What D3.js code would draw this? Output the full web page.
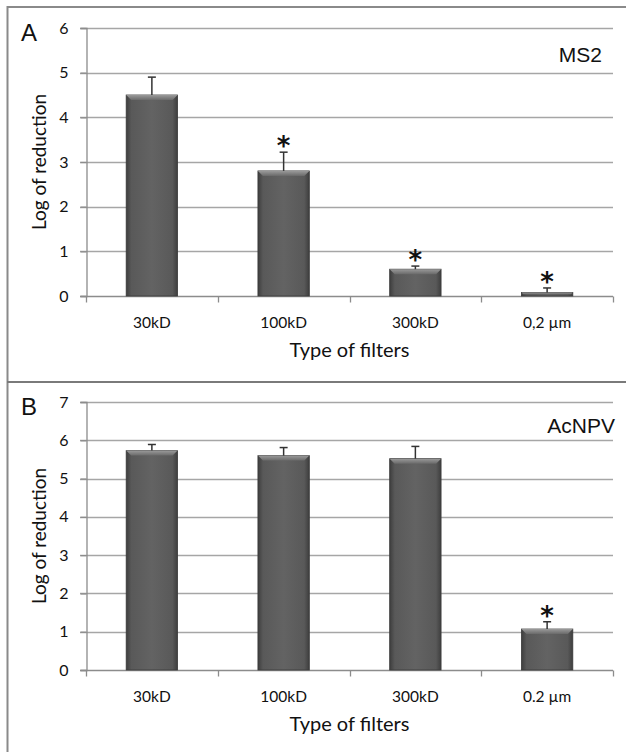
<!DOCTYPE html>
<html>
<head>
<meta charset="utf-8">
<script src="https://cdn.jsdelivr.net/npm/d3@7"></script>
<style>
  body { margin: 0; background: #fff; }
  text { fill: #111; }
</style>
</head>
<body>
<div id="chart"></div>
<script>
// data
const filtersA = ["30kD", "100kD", "300kD", "0,2 µm"];
const filtersB = ["30kD", "100kD", "300kD", "0.2 µm"];
const ms2Values = [4.5, 2.8, 0.6, 0.08];
const ms2Errors = [0.4, 0.42, 0.07, 0.1];
const ms2Signif = [false, true, true, true];
const acnpvValues = [5.73, 5.6, 5.52, 1.07];
const acnpvErrors = [0.16, 0.21, 0.32, 0.19];
const acnpvSignif = [false, false, false, true];
const ticksA = [0, 1, 2, 3, 4, 5, 6];
const ticksB = [0, 1, 2, 3, 4, 5, 6, 7];

const W = 626, H = 752;
const svg = d3.select("#chart").append("svg")
  .attr("width", W).attr("height", H);

// bar gradients
const defs = svg.append("defs");
const gBody = defs.append("linearGradient").attr("id", "barBody")
  .attr("x1", 0).attr("x2", 1).attr("y1", 0).attr("y2", 0);
gBody.append("stop").attr("offset", "0%").attr("stop-color", "#3e3e3e");
gBody.append("stop").attr("offset", "10%").attr("stop-color", "#595959");
gBody.append("stop").attr("offset", "50%").attr("stop-color", "#636363");
gBody.append("stop").attr("offset", "90%").attr("stop-color", "#595959");
gBody.append("stop").attr("offset", "100%").attr("stop-color", "#3e3e3e");
const gTop = defs.append("linearGradient").attr("id", "barTop")
  .attr("x1", 0).attr("x2", 0).attr("y1", 0).attr("y2", 1);
gTop.append("stop").attr("offset", "0%").attr("stop-color", "#9a9a9a");
gTop.append("stop").attr("offset", "100%").attr("stop-color", "#6a6a6a");

// frame
svg.append("path")
  .attr("d", `M${W},7 H7.5 V${H + 2}`)
  .attr("fill", "none").attr("stroke", "#8a8a8a").attr("stroke-width", 2);
svg.append("line")
  .attr("x1", 7).attr("x2", W).attr("y1", 382).attr("y2", 382)
  .attr("stroke", "#7a7a7a").attr("stroke-width", 2);

function drawPanel(opt) {
  const x = d3.scaleBand().domain(opt.cats).range([86, 613]).paddingInner(0).paddingOuter(0);
  const y = d3.scaleLinear().domain([0, d3.max(opt.ticks)]).range([opt.y0, opt.y1]);
  const g = svg.append("g");

  // gridlines
  g.selectAll(".grid").data(opt.ticks.filter(t => t > 0)).join("line")
    .attr("x1", 80).attr("x2", 613)
    .attr("y1", d => Math.round(y(d)) + 0.5).attr("y2", d => Math.round(y(d)) + 0.5)
    .attr("stroke", "#a6a6a6").attr("stroke-width", 1.3);

  // y axis
  const yAxis = g.append("g").attr("transform", "translate(86.5,0)")
    .call(d3.axisLeft(y).tickValues(opt.ticks).tickSize(6).tickPadding(12).tickFormat(d3.format("d")));
  yAxis.select(".domain").attr("stroke", "#8c8c8c").attr("stroke-width", 1.3);
  yAxis.selectAll(".tick line").attr("stroke", "#8c8c8c").attr("stroke-width", 1.3);
  yAxis.selectAll(".tick text").attr("font-family", "Lato, sans-serif").attr("font-size", 16).attr("fill", "#111");

  // x axis
  const bounds = [...opt.cats.map(c => x(c)), x.range()[1]];
  const base = Math.round(y(0)) + 0.5;
  g.append("line").attr("x1", 80).attr("x2", 613).attr("y1", base).attr("y2", base)
    .attr("stroke", "#8c8c8c").attr("stroke-width", 1.3);
  g.selectAll(".xtick").data(bounds).join("line")
    .attr("x1", d => Math.round(d) + 0.5).attr("x2", d => Math.round(d) + 0.5)
    .attr("y1", base).attr("y2", base + 6)
    .attr("stroke", "#8c8c8c").attr("stroke-width", 1.3);
  g.selectAll(".xlab").data(opt.cats).join("text")
    .attr("x", d => x(d) + x.bandwidth() / 2).attr("y", base + 31)
    .attr("text-anchor", "middle")
    .attr("font-family", "Lato, sans-serif").attr("font-size", 15.5)
    .text(d => d);

  // bars
  const bw = x.bandwidth() * 0.39;
  const rows = opt.cats.map((c, i) => ({c, v: opt.values[i], e: opt.errors[i], s: opt.signif[i]}));
  const bars = g.selectAll(".bar").data(rows).join("g");
  bars.append("rect")
    .attr("x", d => x(d.c) + (x.bandwidth() - bw) / 2)
    .attr("y", d => y(d.v))
    .attr("width", bw)
    .attr("height", d => y(0) - y(d.v))
    .attr("fill", "url(#barBody)")
    .attr("stroke", "#3a3a3a").attr("stroke-width", 0.8);
  // bevel on top
  bars.append("path")
    .attr("d", d => {
      const l = x(d.c) + (x.bandwidth() - bw) / 2, r = l + bw, t = y(d.v);
      const h = Math.min(5, (y(0) - t) / 2);
      return `M${l},${t} H${r} L${r - h},${t + h} H${l + h} Z`;
    })
    .attr("fill", "url(#barTop)");

  // error bars (upper only)
  bars.append("line")
    .attr("x1", d => x(d.c) + x.bandwidth() / 2).attr("x2", d => x(d.c) + x.bandwidth() / 2)
    .attr("y1", d => y(d.v)).attr("y2", d => y(d.v + d.e))
    .attr("stroke", "#333").attr("stroke-width", 1.5);
  bars.append("line")
    .attr("x1", d => x(d.c) + x.bandwidth() / 2 - 4).attr("x2", d => x(d.c) + x.bandwidth() / 2 + 4)
    .attr("y1", d => y(d.v + d.e)).attr("y2", d => y(d.v + d.e))
    .attr("stroke", "#333").attr("stroke-width", 1.5);

  // significance stars
  bars.filter(d => d.s).append("text")
    .attr("x", d => x(d.c) + x.bandwidth() / 2)
    .attr("y", d => y(d.v + d.e) + 3)
    .attr("text-anchor", "middle")
    .attr("font-family", "'DejaVu Sans', sans-serif").attr("font-size", 26).attr("font-weight", "bold")
    .text("*");

  // axis titles
  g.append("text")
    .attr("transform", `translate(46,${(opt.y0 + opt.y1) / 2}) rotate(-90)`)
    .attr("text-anchor", "middle")
    .attr("font-family", "Lato, sans-serif").attr("font-size", 19)
    .text("Log of reduction");
  g.append("text")
    .attr("x", (86 + 613) / 2).attr("y", base + 60)
    .attr("text-anchor", "middle")
    .attr("font-family", "Lato, sans-serif").attr("font-size", 20)
    .text("Type of filters");

  // panel letter and virus name
  g.append("text").attr("x", 21).attr("y", opt.y1 + 13)
    .attr("font-family", "'Liberation Sans', Arial, sans-serif").attr("font-size", 24)
    .text(opt.letter);
  g.append("text").attr("x", opt.nameX).attr("y", opt.nameY)
    .attr("text-anchor", "end")
    .attr("font-family", "'Liberation Sans', Arial, sans-serif").attr("font-size", 21)
    .text(opt.name);
}

drawPanel({cats: filtersA, values: ms2Values, errors: ms2Errors, signif: ms2Signif,
  ticks: ticksA, y0: 296, y1: 28, letter: "A", name: "MS2", nameX: 602, nameY: 62});
drawPanel({cats: filtersB, values: acnpvValues, errors: acnpvErrors, signif: acnpvSignif,
  ticks: ticksB, y0: 670, y1: 402, letter: "B", name: "AcNPV", nameX: 615, nameY: 433});
</script>
</body>
</html>
